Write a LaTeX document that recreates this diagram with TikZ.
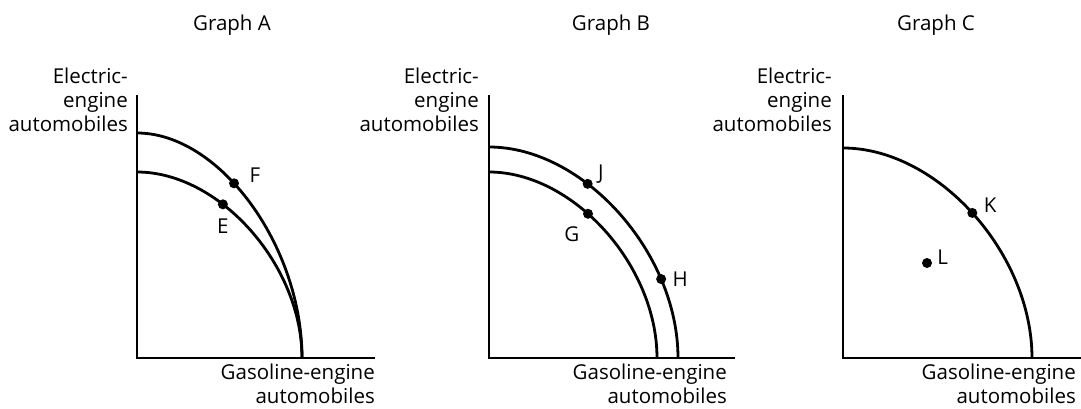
\documentclass[tikz,border=0pt]{standalone}
\usepackage{fontspec}
\setmainfont{Open Sans}
\usetikzlibrary{positioning}
\begin{document}
\begin{tikzpicture}[x=1pt,y=-1pt,
	axis/.style={line width=1.5pt},
	ppf/.style={line width=2.8pt},
	dot/.style={circle,fill=black,inner sep=0pt,minimum size=10pt},
	lbl/.style={inner sep=0pt,font=\fontsize{20.5}{24}\selectfont},
	axlbl/.style={inner sep=0pt,align=right,font=\fontsize{20.5}{24}\selectfont},
	ttl/.style={inner sep=0pt,font=\fontsize{20.5}{24}\selectfont}]
	\useasboundingbox (0,0) rectangle (1081,409);
	% Graph A
	\node[ttl] (ttlA) at (232,25) {Graph A};
	\coordinate (Atop) at (137,95);
	\coordinate (Ao) at (137,358);
	\coordinate (Aend) at (375,358);
	\draw[axis] (Atop) -- (Ao) -- (Aend);
	\draw[ppf] (137,133) .. controls (219.5,133) and (302,245.5) .. (302,358) node[dot,pos=0.416] (F) {};
	\draw[ppf] (137,172) .. controls (219.5,172) and (302,265) .. (302,358) node[dot,pos=0.363] (E) {};
	\node[lbl,right=9pt of F,yshift=8pt] (labF) {F};
	\node[lbl,below=8pt of E] (labE) {E};
	\node[axlbl,anchor=east] (yA) at (128,100) {Electric-\\engine\\automobiles};
	\node[axlbl,anchor=north east] (xA) at (375,364) {Gasoline-engine\\automobiles};
	% Graph B
	\node[ttl] (ttlB) at (611,25) {Graph B};
	\coordinate (Btop) at (489,95);
	\coordinate (Bo) at (489,358);
	\coordinate (Bend) at (735,358);
	\draw[axis] (Btop) -- (Bo) -- (Bend);
	\draw[ppf] (489,147) .. controls (583.5,147) and (678,252.5) .. (678,358) node[dot,pos=0.364] (J) {} node[dot,pos=0.745] (H) {};
	\draw[ppf] (489,172) .. controls (573,172) and (657,265) .. (657,358) node[dot,pos=0.417] (G) {};
	\node[lbl,right=4pt of J,yshift=10pt] (labJ) {J};
	\node[lbl,below left=8pt and 4pt of G] (labG) {G};
	\node[lbl,right=5pt of H] (labH) {H};
	\node[axlbl,anchor=east] (yB) at (479,100) {Electric-\\engine\\automobiles};
	\node[axlbl,anchor=north east] (xB) at (727,364) {Gasoline-engine\\automobiles};
	% Graph C
	\node[ttl] (ttlC) at (936,25) {Graph C};
	\coordinate (Ctop) at (843,95);
	\coordinate (Co) at (843,358);
	\coordinate (Cend) at (1081,358);
	\draw[axis] (Ctop) -- (Co) -- (Cend);
	\draw[ppf] (843,148) .. controls (937.5,148) and (1032,253) .. (1032,358) node[dot,pos=0.497] (K) {};
	\node[dot] (L) at (927,263) {};
	\node[lbl,right=5pt of K,yshift=8pt] (labK) {K};
	\node[lbl,right=5pt of L,yshift=6pt] (labL) {L};
	\node[axlbl,anchor=east] (yC) at (832,100) {Electric-\\engine\\automobiles};
	\node[axlbl,anchor=north east] (xC) at (1076,364) {Gasoline-engine\\automobiles};
\end{tikzpicture}
\end{document}
